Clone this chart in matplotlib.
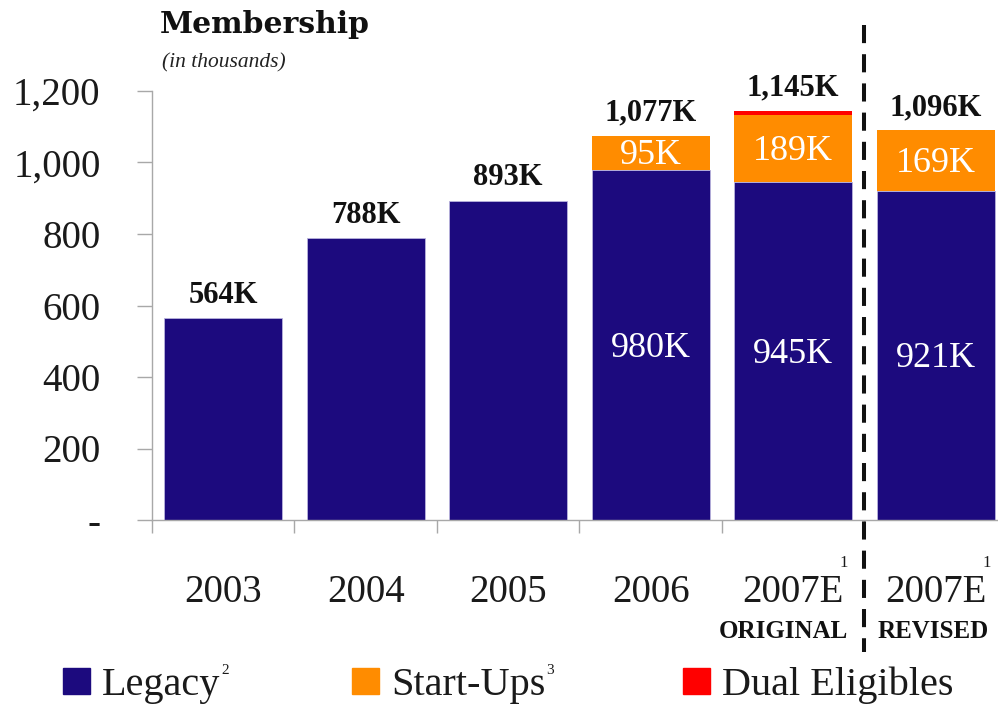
import matplotlib
matplotlib.use("Agg")
import matplotlib.pyplot as plt
from matplotlib.patches import Rectangle
from matplotlib.transforms import blended_transform_factory

# Membership by year (thousands)
categories = ["2003", "2004", "2005", "2006", "2007E", "2007E"]
legacy = [564, 788, 893, 980, 945, 921]
start_ups = [0, 0, 0, 95, 189, 169]
dual_eligibles = [0, 0, 0, 0, 11, 0]
totals = [564, 788, 893, 1077, 1145, 1096]
footnoted = [False, False, False, False, True, True]
scenario_labels = {4: "ORIGINAL", 5: "REVISED"}
yticks = [0, 200, 400, 600, 800, 1000, 1200]
ytick_labels = ["-", "200", "400", "600", "800", "1,000", "1,200"]

NAVY = "#1c0a7e"
ORANGE = "#ff8c00"
RED = "#ff0000"
SERIF = "Liberation Serif"

W, H = 998, 706
fig = plt.figure(figsize=(W / 100, H / 100), dpi=100)
ax = fig.add_axes([152 / W, (H - 520) / H, (998 - 152) / W, (520 - 91) / H])

x = list(range(len(categories)))
bw = 0.825
edge = dict(edgecolor="#b9b3dc", linewidth=0.6)
ax.bar(x, legacy, width=bw, color=NAVY, **edge)
ax.bar(x, start_ups, width=bw, bottom=legacy, color=ORANGE, linewidth=0)
base2 = [a + b for a, b in zip(legacy, start_ups)]
ax.bar(x, dual_eligibles, width=bw, bottom=base2, color=RED, linewidth=0)
tops = [a + b for a, b in zip(base2, dual_eligibles)]

ax.set_xlim(-0.479, 5.437)
ax.set_ylim(0, 1200)

# spines & ticks
for s in ["top", "right"]:
    ax.spines[s].set_visible(False)
for s in ["left", "bottom"]:
    ax.spines[s].set_color("#a8a8a8")
    ax.spines[s].set_linewidth(1.0)

ax.set_yticks(yticks)
ax.set_yticklabels(ytick_labels, fontfamily=SERIF, fontsize=28, color="#1a1a1a")
ax.tick_params(axis="y", length=11, width=1.0, color="#a8a8a8", pad=26)

bounds = [i - 0.5 for i in range(len(categories))]
ax.set_xticks(bounds)
ax.set_xticklabels([])
ax.set_xticks(x, minor=True)
ax.set_xticklabels(categories, minor=True, fontfamily=SERIF, fontsize=28, color="#1a1a1a")
ax.tick_params(axis="x", which="major", length=9.5, width=1.0, color="#a8a8a8")
ax.tick_params(axis="x", which="minor", length=0, pad=39)

# value labels
for i in x:
    ax.annotate(f"{totals[i]:,}K", (i, tops[i]), xytext=(0, 6), textcoords="offset points",
                ha="center", va="bottom", fontfamily=SERIF, fontweight="bold", fontsize=22,
                color="#111111")
    if start_ups[i] > 0:
        for val, mid in [(legacy[i], legacy[i] / 2), (start_ups[i], legacy[i] + start_ups[i] / 2)]:
            ax.annotate(f"{val:,}K", (i, mid), xytext=(0, -8.5), textcoords="offset points",
                        ha="center", va="baseline", fontfamily=SERIF, fontsize=26,
                        color="white")

# dashed divider between original and revised estimates
ax.plot([4.5, 4.5], [1.154, -0.308], transform=blended_transform_factory(ax.transData, ax.transAxes),
        color="#111111", lw=2.9, linestyle=(0, (4.5, 2.75)), clip_on=False, solid_capstyle="butt")

# footnote marks and scenario captions
fig.canvas.draw()
renderer = fig.canvas.get_renderer()
for lbl, fn in zip(ax.xaxis.get_minorticklabels(), footnoted):
    if fn:
        bb = lbl.get_window_extent(renderer)
        fig.text((bb.x1 - 4) / W, (H - 555) / H, "1", fontfamily=SERIF, fontsize=12,
                 ha="left", va="top", color="#1a1a1a")
caption_shift = {4: -10, 5: -3}
for i, name in scenario_labels.items():
    ax.annotate(name, (i, 0), xycoords=("data", "axes fraction"),
                xytext=(caption_shift[i] * 0.72, -112 * 0.72), textcoords="offset points",
                ha="center", va="center", fontfamily=SERIF, fontweight="bold",
                fontsize=18, color="#111111")

# title
fig.text(160 / W, (H - 33) / H, "Membership", fontfamily="DejaVu Serif", fontweight="bold",
         fontsize=21.5, ha="left", va="baseline", color="#111111")
fig.text(162 / W, (H - 67) / H, "(in thousands)", fontfamily=SERIF, fontstyle="italic",
         fontsize=15.5, ha="left", va="baseline", color="#222222")

# legend
legend_items = [(63, NAVY, "Legacy", "2"), (352, ORANGE, "Start-Ups", "3"),
                (683, RED, "Dual Eligibles", None)]
for x0, col, name, sup in legend_items:
    fig.patches.append(Rectangle((x0 / W, (H - 694) / H), 27 / W, 26 / H, color=col,
                                 transform=fig.transFigure, figure=fig))
    t = fig.text((x0 + 39) / W, (H - 695) / H, name, fontfamily=SERIF, fontsize=29,
                 ha="left", va="baseline", color="#1a1a1a")
    if sup:
        bb = t.get_window_extent(renderer)
        fig.text((bb.x1 + 1) / W, (H - 664) / H, sup, fontfamily=SERIF, fontsize=11,
                 ha="left", va="top", color="#1a1a1a")

fig.savefig("out.png", dpi=100, facecolor="white")
